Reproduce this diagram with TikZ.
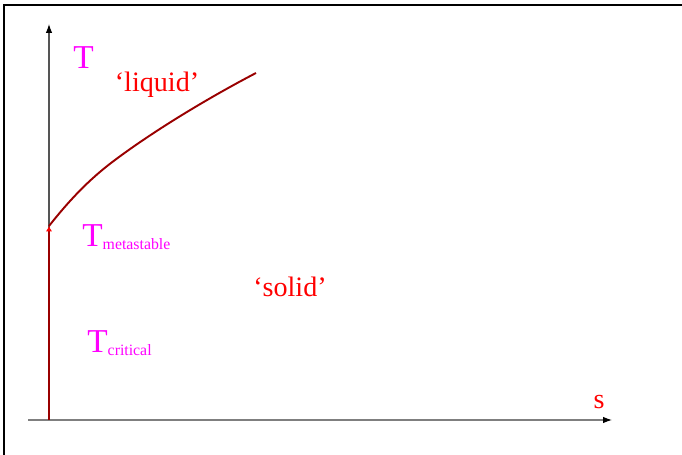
\documentclass[tikz,border=0pt]{standalone}
\usepackage{fontspec}
\setmainfont{Liberation Serif}
\usetikzlibrary{arrows.meta, positioning}
\usepackage{xcolor}
\definecolor{curvered}{HTML}{990000}
\definecolor{axisgrey}{HTML}{555555}
\definecolor{axislight}{HTML}{7F7F7F}
\definecolor{symmag}{RGB}{255,0,255}
\definecolor{labred}{RGB}{255,0,0}

\newcommand{\bigT}{{\fontsize{19}{19}\selectfont T}}
\newcommand{\subtxt}[1]{\raisebox{-1.5pt}{\fontsize{9}{9}\selectfont #1}}

\begin{document}
\begin{tikzpicture}[
    x=0.02cm, y=-0.02cm,
    frame/.style={draw=black, line width=0.8pt},
    axis/.style={-{Latex[length=5pt, width=3.6pt, black]}, line width=0.6pt},
    phase/.style={draw=curvered, line width=1.1pt},
    sym/.style={text=symmag, inner sep=0pt, anchor=base west},
    region/.style={text=labred, inner sep=0pt, anchor=base,
                   font=\fontsize{16}{16}\selectfont},
  ]
    \useasboundingbox (0,0) rectangle (682,455);

    % cropped frame
    \draw[frame] (4,455) -- (4,5) -- (682,5);

    % axes
    \coordinate (origin) at (49,420);
    \coordinate (ytop)   at (49,24);
    \coordinate (xleft)  at (28,420);
    \coordinate (xright) at (612,420);
    \draw[axis, draw=axisgrey]  (origin) -- (ytop);
    \draw[axis, draw=axislight] (xleft) -- (xright);

    % phase boundary
    \coordinate (meta) at (49,226);
    \coordinate (bend) at (115,160);
    \coordinate (melt) at (256,73);
    \draw[phase, -{Latex[length=3pt, width=3.5pt, labred]}] (origin) -- (meta);
    \draw[phase] (meta) .. controls (68,202) and (88,180) .. (bend)
                        .. controls (155,130) and (210,97) .. (melt);

    % labels
    \node[sym] (tlab) at (73,69) {\bigT};
    \node[sym] (tmeta) at (82,247) {\bigT\subtxt{metastable}};
    \node[sym] (tcrit) at (87,353) {\bigT\subtxt{critical}};

    \node[region] (liquid) at (157,92) {‘liquid’};
    \node[region] (solid)  at (290,297) {‘solid’};
    \node[region] (slab)   at (599,408) {s};
\end{tikzpicture}
\end{document}
